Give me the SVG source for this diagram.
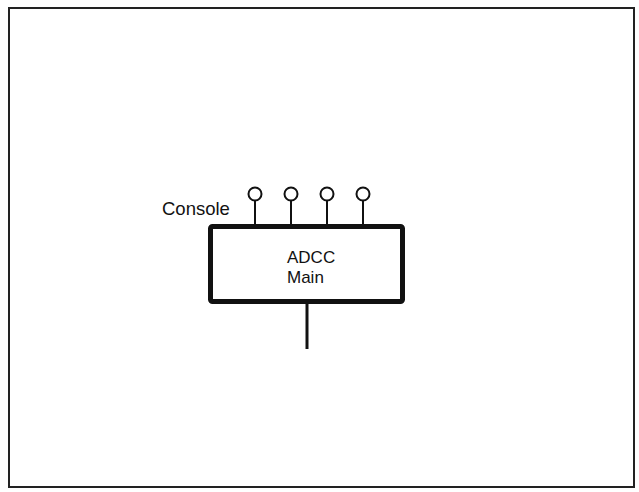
<svg xmlns="http://www.w3.org/2000/svg" width="639" height="492" viewBox="0 0 639 492">
<style>
.lbl{font-family:"Liberation Sans",Arial,sans-serif;font-size:17px;fill:#111}
.port{fill:#fff;stroke:#111;stroke-width:2}
.stem{stroke:#111;stroke-width:2}
</style>
<rect width="639" height="492" fill="#fff"/>
<rect id="frame" x="9" y="8" width="625" height="479" fill="none" stroke="#222" stroke-width="2"/>
<g id="connectors">
<line class="stem" x1="255" y1="200" x2="255" y2="226"/>
<line class="stem" x1="291" y1="200" x2="291" y2="226"/>
<line class="stem" x1="327" y1="200" x2="327" y2="226"/>
<line class="stem" x1="363" y1="200" x2="363" y2="226"/>
<line x1="307" y1="304" x2="307" y2="349" stroke="#111" stroke-width="3"/>
</g>
<g id="ports">
<circle class="port" cx="255" cy="194" r="6.5"/>
<circle class="port" cx="291" cy="194" r="6.5"/>
<circle class="port" cx="327" cy="194" r="6.5"/>
<circle class="port" cx="363" cy="194" r="6.5"/>
</g>
<g id="console-label">
<text class="lbl" x="162" y="215" style="font-size:18.5px">Console</text>
</g>
<g id="adcc-main">
<rect x="210.5" y="226.5" width="192" height="75" rx="2" fill="#fff" stroke="#111" stroke-width="5"/>
<text class="lbl" x="287" y="263">ADCC</text>
<text class="lbl" x="287" y="283">Main</text>
</g>
</svg>
